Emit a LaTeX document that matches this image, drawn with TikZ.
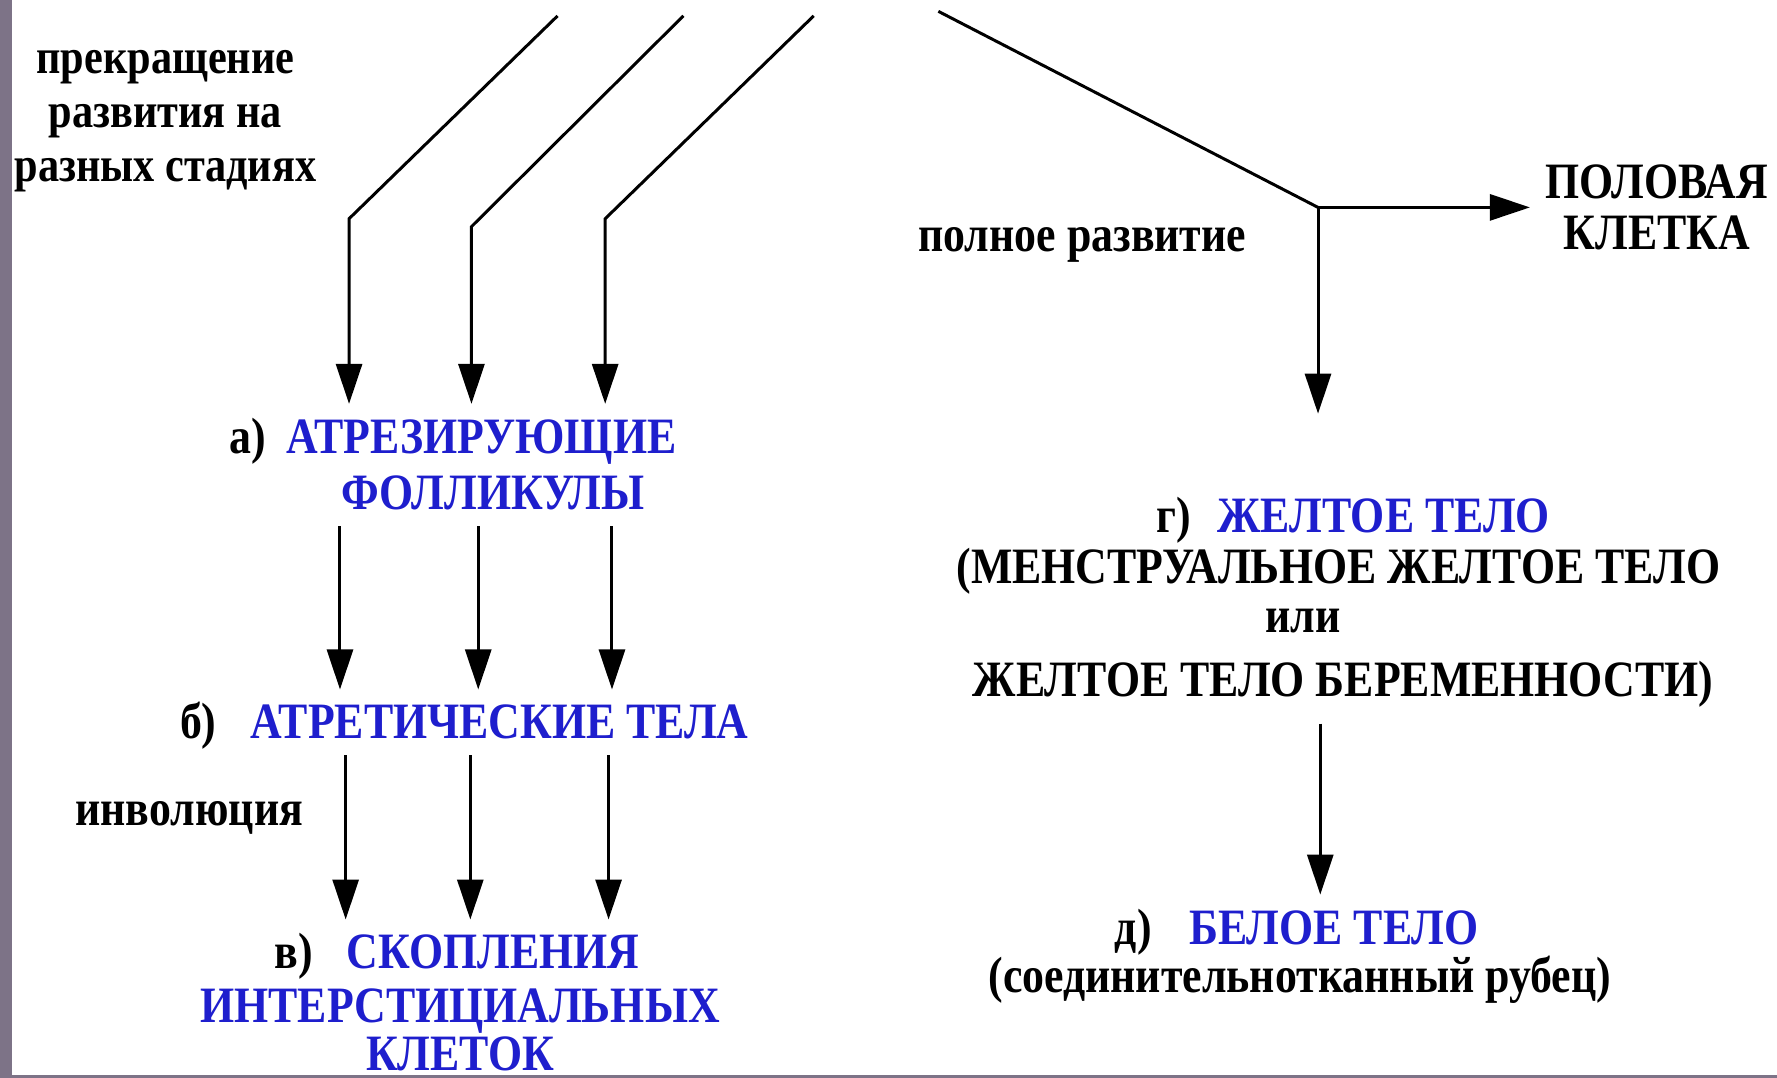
\documentclass[tikz,border=0pt]{standalone}
\usepackage{fontspec}
\setmainfont{Liberation Serif}[FakeStretch=0.86]
\usetikzlibrary{arrows.meta}
\definecolor{stageblue}{RGB}{30,30,205}
\definecolor{edgegray}{RGB}{125,115,135}

\begin{document}
\begin{tikzpicture}[x=0.11333mm, y=-0.11333mm,
		every node/.style={font=\fontsize{14.5}{16}\selectfont\bfseries, inner sep=1.5mm},
		stage/.style={text=stageblue, anchor=base},
		note/.style={anchor=base},
		ln/.style={line width=0.85pt},
		arr/.style={line width=0.85pt, -{Triangle[length=4mm, width=2.6mm]}}]
			\useasboundingbox (0,0) rectangle (1568,951);
			\fill[edgegray] (0,0) rectangle (10.5,951);
			\fill[edgegray] (0,948.5) rectangle (1568,951);

			\node[note, anchor=center, align=center, font=\fontsize{14}{15.3}\selectfont\bfseries] (stop) at (146,107) {прекращение\\развития на\\разных стадиях};
			\node[note] (full) at (955,222) {полное развитие};
			\node[note, anchor=center, align=center, font=\fontsize{14.5}{14.5}\selectfont\bfseries] (cell) at (1462,183) {ПОЛОВАЯ\\КЛЕТКА};

			\node[note] (al) at (219,400) {а)};
			\node[stage] (a1) at (425,400) {АТРЕЗИРУЮЩИЕ};
			\node[stage] (a2) at (435,450) {ФОЛЛИКУЛЫ};

			\node[note] (bl) at (175,652) {б)};
			\node[stage] (b) at (441,652) {АТРЕТИЧЕСКИЕ ТЕЛА};

			\node[note] (inv) at (167,728) {инволюция};

			\node[note] (cl) at (259,855) {в)};
			\node[stage] (c1) at (435,855) {СКОПЛЕНИЯ};
			\node[stage] (c2) at (406,902) {ИНТЕРСТИЦИАЛЬНЫХ};
			\node[stage, inner sep=0pt] (c3) at (406,945) {КЛЕТОК};

			\node[note] (gl) at (1036,470) {г)};
			\node[stage] (g1) at (1221,470) {ЖЕЛТОЕ ТЕЛО};
			\node[note] (g2) at (1181,515) {(МЕНСТРУАЛЬНОЕ ЖЕЛТОЕ ТЕЛО};
			\node[note] (g3) at (1150,558) {или};
			\node[note] (g4) at (1185,615) {ЖЕЛТОЕ ТЕЛО БЕРЕМЕННОСТИ)};

			\node[note] (dl) at (1000,833) {д)};
			\node[stage] (d1) at (1177,833) {БЕЛОЕ ТЕЛО};
			\node[note] (d2) at (1147,876) {(соединительнотканный рубец)};

			\coordinate (t1) at (492,14);
			\coordinate (k1) at (308,193);
			\coordinate (t2) at (603,14);
			\coordinate (k2) at (416,200);
			\coordinate (t3) at (718,14);
			\coordinate (k3) at (534,193);
			\coordinate (t4) at (828,10);
			\coordinate (j) at (1163,183);
			\coordinate (jd) at (1163,365);

			\foreach \n in {1,2,3}
				{
					\draw[arr] (t\n) -- (k\n) -- (k\n |- a1.north);
				}
			\foreach \x in {300,422,540}
				{
					\draw[arr] (\x,0 |- a2.south) -- (\x,0 |- b.north);
				}
			\foreach \x in {305,415,537}
				{
					\draw[arr] (\x,0 |- b.south) -- (\x,0 |- c1.north);
				}

			\draw[ln] (t4) -- (j);
			\draw[arr] (j) -- (j -| cell.west);
			\draw[arr] (j) -- (jd);
			\draw[arr] (1165,0 |- g4.south) -- (1165,0 |- d1.north);
		\end{tikzpicture}
\end{document}
